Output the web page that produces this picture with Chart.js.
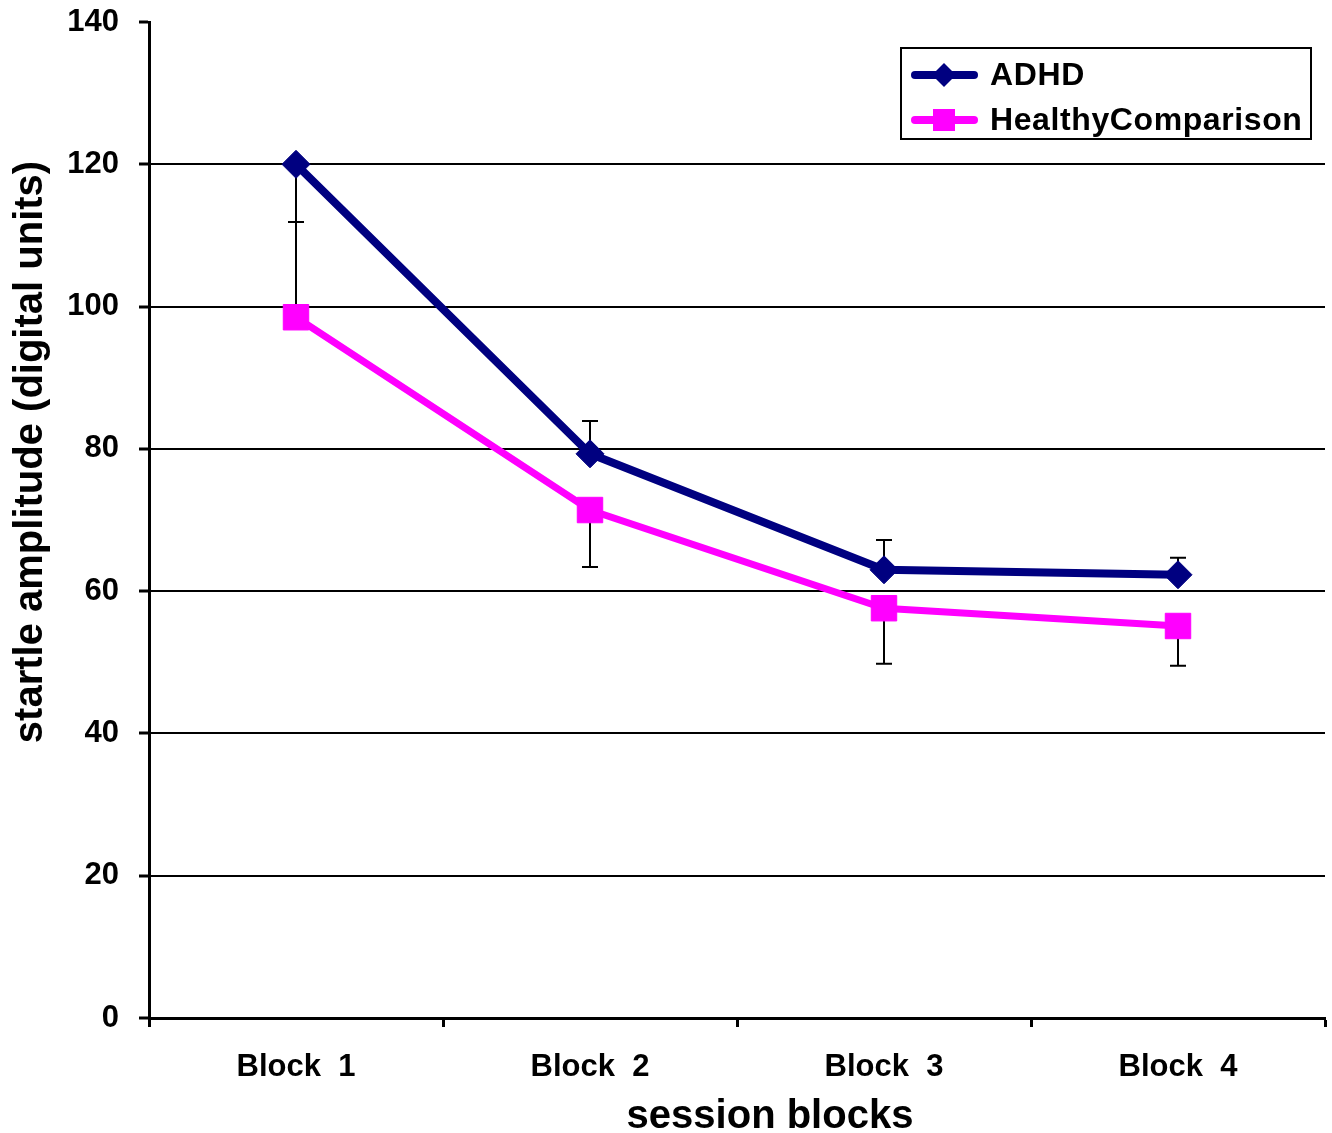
<!DOCTYPE html>
<html>
<head>
<meta charset="utf-8">
<script src="https://cdn.jsdelivr.net/npm/chart.js@4/dist/chart.umd.min.js"></script>
<style>
  html, body { margin: 0; padding: 0; background: #fff; overflow: hidden; }
  canvas { display: block; }
</style>
</head>
<body>
<canvas id="startle-chart" width="1332" height="1133"></canvas>
<script>
// categories
const blocks = ["Block  1", "Block  2", "Block  3", "Block  4"];

// series means
const adhdMeans = [120, 79.3, 63.0, 62.3];
const healthyMeans = [98.5, 71.4, 57.6, 55.1];

// error bars (only the half that shows in the figure)
const adhdErrUp = [null, 4.6, 4.2, 2.4];
const adhdErrDown = [8.1, null, null, null];
const healthyErrUp = [13.4, null, null, null];
const healthyErrDown = [null, 8.0, 7.8, 5.6];

// y axis
const yMin = 0;
const yMax = 140;
const yStep = 20;

// labels
const seriesNames = ["ADHD", "HealthyComparison"];
const xTitle = "session blocks";
const yTitle = "startle amplitude (digital units)";

const FONT = "'Liberation Sans', Arial, Helvetica, sans-serif";
const NAVY = "#000080";
const MAGENTA = "#FF00FF";

const canvas = document.getElementById("startle-chart");

// error bars drawn under the markers
const errorBars = {
    id: "errorBars",
    beforeDatasetsDraw(chart) {
        const ctx = chart.ctx;
        const yScale = chart.scales.y;
        const groups = [
            [0, adhdMeans, adhdErrUp, adhdErrDown],
            [1, healthyMeans, healthyErrUp, healthyErrDown]
        ];
        ctx.save();
        ctx.strokeStyle = "#000";
        ctx.lineWidth = 2;
        groups.forEach(([idx, means, up, down]) => {
            const meta = chart.getDatasetMeta(idx);
            means.forEach((m, i) => {
                const x = meta.data[i].x;
                const y0 = yScale.getPixelForValue(m);
                const ends = [];
                if (up[i] != null) ends.push(m + up[i]);
                if (down[i] != null) ends.push(m - down[i]);
                ends.forEach(v => {
                    const y1 = yScale.getPixelForValue(v);
                    ctx.beginPath();
                    ctx.moveTo(x, y0);
                    ctx.lineTo(x, y1);
                    ctx.moveTo(x - 8, y1);
                    ctx.lineTo(x + 8, y1);
                    ctx.stroke();
                });
            });
        });
        ctx.restore();
    }
};

// axis titles + boxed legend
const titlesAndLegend = {
    id: "titlesAndLegend",
    afterDraw(chart) {
        const ctx = chart.ctx;
        const area = chart.chartArea;
        ctx.save();
        ctx.fillStyle = "#000";
        ctx.font = "bold 40px " + FONT;

        // x title
        ctx.textAlign = "center";
        ctx.textBaseline = "alphabetic";
        ctx.fillText(xTitle, (area.left + area.right) / 2 + 33, chart.height - 5);

        // y title
        ctx.save();
        ctx.translate(31, (area.top + area.bottom) / 2 - 68);
        ctx.rotate(-Math.PI / 2);
        ctx.textBaseline = "middle";
        ctx.fillText(yTitle, 0, 0);
        ctx.restore();

        // legend box
        const right = area.right - 14;
        const left = right - 410;
        const top = area.top + 26;
        const h = 91;
        ctx.fillStyle = "#fff";
        ctx.fillRect(left, top, right - left, h);
        ctx.strokeStyle = "#000";
        ctx.lineWidth = 2;
        ctx.strokeRect(left, top, right - left, h);

        const rows = [
            { y: top + 27, color: NAVY, shape: "diamond", label: seriesNames[0] },
            { y: top + 72, color: MAGENTA, shape: "square", label: seriesNames[1] }
        ];
        rows.forEach(r => {
            ctx.strokeStyle = r.color;
            ctx.lineWidth = 8;
            ctx.lineCap = "round";
            ctx.beginPath();
            ctx.moveTo(left + 14, r.y);
            ctx.lineTo(left + 73, r.y);
            ctx.stroke();
            ctx.fillStyle = r.color;
            const cx = left + 43;
            ctx.beginPath();
            if (r.shape === "diamond") {
                ctx.moveTo(cx, r.y - 12);
                ctx.lineTo(cx + 12, r.y);
                ctx.lineTo(cx, r.y + 12);
                ctx.lineTo(cx - 12, r.y);
                ctx.closePath();
            } else {
                ctx.rect(cx - 11, r.y - 11, 22, 22);
            }
            ctx.fill();
            ctx.fillStyle = "#000";
            ctx.font = "bold 32px " + FONT;
            ctx.letterSpacing = "0.6px";
            ctx.textAlign = "left";
            ctx.textBaseline = "middle";
            ctx.fillText(r.label, left + 89, r.y + 1);
        });
        ctx.restore();
    }
};

new Chart(canvas, {
    type: "line",
    data: {
        labels: blocks,
        datasets: [{
            label: seriesNames[0],
            data: adhdMeans,
            borderColor: NAVY,
            backgroundColor: NAVY,
            borderWidth: 8,
            pointStyle: "rectRot",
            pointRadius: 14,
            pointBorderWidth: 1,
            tension: 0
        }, {
            label: seriesNames[1],
            data: healthyMeans,
            borderColor: MAGENTA,
            backgroundColor: MAGENTA,
            borderWidth: 7,
            pointStyle: "rect",
            pointRadius: 18,
            pointBorderWidth: 1,
            tension: 0
        }]
    },
    options: {
        responsive: false,
        animation: false,
        events: [],
        layout: { autoPadding: false, padding: { top: 22, right: 7, left: 0, bottom: 0 } },
        plugins: {
            legend: { display: false },
            tooltip: { enabled: false }
        },
        scales: {
            x: {
                offset: true,
                border: { display: true, color: "#000", width: 3 },
                grid: {
                    offset: true,
                    drawOnChartArea: false,
                    drawTicks: true,
                    tickLength: 9,
                    tickColor: "#000",
                    tickWidth: 3
                },
                ticks: {
                    color: "#000",
                    padding: 22,
                    font: { family: FONT, size: 31, weight: "bold" },
                    maxRotation: 0
                },
                afterFit(scale) {
                    scale.height = 115;
                    scale.paddingLeft = 0;
                    scale.paddingRight = 0;
                }
            },
            y: {
                min: yMin,
                max: yMax,
                border: { display: true, color: "#000", width: 3 },
                grid: {
                    color: c => (c.tick && c.tick.value === yMax) ? "rgba(0,0,0,0)" : "#000",
                    lineWidth: 2,
                    tickLength: 10,
                    tickColor: "#000",
                    tickWidth: 3
                },
                ticks: {
                    stepSize: yStep,
                    color: "#000",
                    padding: 20,
                    font: { family: FONT, size: 31, weight: "bold" }
                },
                afterFit(scale) {
                    scale.width = 149;
                    scale.paddingTop = 0;
                    scale.paddingBottom = 0;
                }
            }
        }
    },
    plugins: [errorBars, titlesAndLegend]
});
</script>
</body>
</html>
